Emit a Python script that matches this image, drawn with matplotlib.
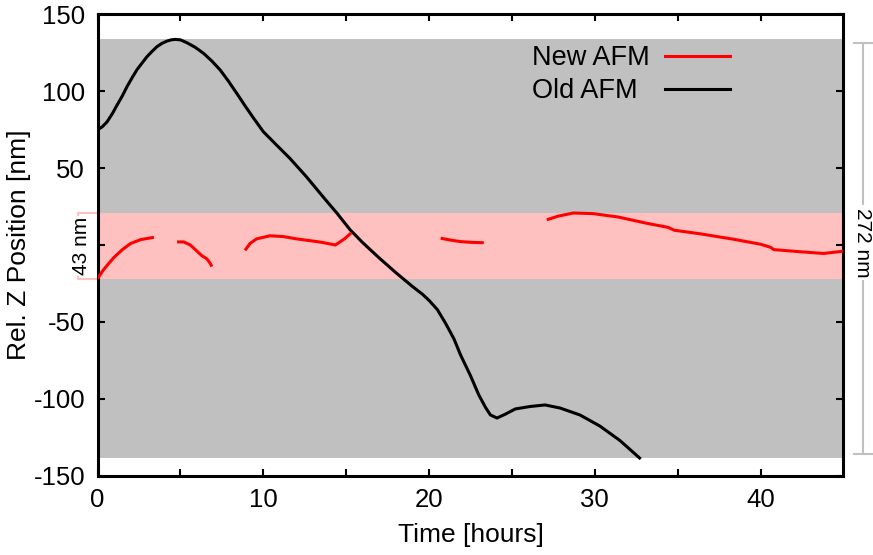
import numpy as np
import matplotlib
matplotlib.use('Agg')
import matplotlib.pyplot as plt
import matplotlib.transforms as mtransforms

plt.rcParams['font.family'] = ['Liberation Sans', 'DejaVu Sans']
plt.rcParams['axes.unicode_minus'] = False

# old AFM drift [hours, nm]
old_t = [0, 0.3, 0.57, 0.9, 1.18, 1.5, 1.78, 2.1, 2.38, 2.7, 2.98, 3.3, 3.59, 3.9, 4.19,
         4.45, 4.7, 5.0, 5.4, 5.9, 6.4, 6.9, 7.4, 7.9, 8.4, 8.9, 9.42, 10.0, 10.8, 11.6,
         12.6, 13.6, 14.45, 15.25, 16, 17, 18, 19, 19.6, 20, 20.5, 21, 21.5, 21.9, 22.5,
         23, 23.4, 23.7, 24.1, 24.6, 25.2, 26.1, 27, 27.9, 29.1, 30.3, 31.5, 32.7]
old_z = [74.8, 77, 80, 85.5, 91, 97, 103, 109, 114, 118.5, 122.4, 126, 129, 131.2, 132.6,
         133.4, 133.7, 133.4, 131.5, 128.5, 124.6, 119.6, 113.8, 106.5, 98.6, 90.5, 82.4,
         73.7, 65, 56.4, 44.4, 31.4, 20.6, 9.75, 1.5, -8.5, -18, -27, -32, -36, -42, -51,
         -61, -71.5, -85, -97.5, -105.5, -110.5, -112.5, -110, -106.6, -105, -104, -106,
         -110.5, -117.7, -127, -138.5]

# new AFM drift, separate recording segments
new_segments_t = [
    [0, 0.3, 0.6, 1, 1.5, 2, 2.6, 3.4],
    [4.8, 5.2, 5.6, 6.0, 6.3, 6.6, 6.8, 6.9],
    [8.9, 9.2, 9.6, 10.4, 11.2, 12, 12.7, 13.5, 14.35, 14.9, 15.3],
    [20.7, 21.3, 21.9, 22.6, 23.3],
    [27.1, 27.8, 28.7, 29.9, 31.4, 33.1, 34.4, 34.8, 36.4, 38.4, 40, 40.6, 40.8, 42.4,
     43.8, 45],
]
new_segments_z = [
    [-22, -17, -13, -8, -3, 1, 3.5, 5],
    [2, 2, 0, -4, -7, -9, -12, -14],
    [-3.5, 1, 4, 6, 5.5, 4, 3, 1.8, 0, 4, 7.8],
    [4.4, 3.2, 2.2, 1.7, 1.5],
    [16.4, 18.8, 20.8, 20.4, 18.2, 14.2, 11.5, 9.6, 7.2, 3.7, 0.5, -1.5, -3, -4.4,
     -5.5, -4],
]

y_ticks = [-150, -100, -50, 0, 50, 100, 150]
y_ticklabels = ['-150', '-100', '-50', '', '50', '100', '150']
old_range_label = '272 nm'
new_range_label = '43 nm'

fig = plt.figure(figsize=(8.73, 5.55), dpi=100)
ax = fig.add_axes([0.1117, 0.1429, 0.8545, 0.8313])

old_lo, old_hi = min(old_z), max(old_z)
new_lo = min(min(s) for s in new_segments_z)
new_hi = max(max(s) for s in new_segments_z)

ax.axhspan(old_lo, old_hi, color='#c0c0c0', lw=0, zorder=0)
ax.axhspan(new_lo, new_hi, color='#ffc0c0', lw=0, zorder=1)

ax.plot(old_t, old_z, color='black', lw=2.2, zorder=3, solid_joinstyle='round')
for st, sz in zip(new_segments_t, new_segments_z):
    ax.plot(st, sz, color='#ff0000', lw=2.2, zorder=4, solid_capstyle='butt')

ax.set_xlim(0, 45)
ax.set_ylim(-150, 150)
ax.set_xticks([0, 10, 20, 30, 40])
ax.set_xticks([5, 15, 25, 35], minor=True)
ax.set_yticks(y_ticks)
ax.set_yticklabels(y_ticklabels)
ax.tick_params(which='both', direction='in', top=True, right=True, length=5, width=1.5,
               labelsize=18.5, pad=9)
for sp in ax.spines.values():
    sp.set_linewidth(2.2)

ax.set_xlabel('Time [hours]', fontsize=19, labelpad=8)
ax.set_ylabel('Rel. Z Position [nm]', fontsize=19, labelpad=2)

# legend drawn by hand: text first, then line
leg = [('New AFM', '#ff0000', 0.909), ('Old AFM', 'black', 0.838)]
for lab, col, yy in leg:
    ax.text(0.5825, yy - 0.004, lab, transform=ax.transAxes, fontsize=19.5, va='center',
            ha='left', zorder=6)
    ax.plot([0.761, 0.848], [yy, yy], transform=ax.transAxes, color=col, lw=2.2, zorder=6)

# range brackets
tr = mtransforms.blended_transform_factory(ax.transAxes, ax.transData)
ax.plot([0.0, -0.026, -0.026, 0.0], [new_hi, new_hi, new_lo, new_lo], transform=tr,
        color='#ffc0c0', lw=1.5, clip_on=False, zorder=2)
ax.text(-0.021, (new_hi + new_lo) / 2, new_range_label, transform=tr, rotation=90,
        fontsize=15, ha='center', va='center',
        bbox=dict(facecolor='white', edgecolor='none', pad=0.5))

ax.plot([1.014, 1.039], [old_hi - 2.5, old_hi - 2.5], transform=tr, color='#c0c0c0', lw=1.5,
        clip_on=False)
ax.plot([1.014, 1.039], [old_lo + 2.5, old_lo + 2.5], transform=tr, color='#c0c0c0', lw=1.5,
        clip_on=False)
ax.plot([1.026, 1.026], [old_lo + 2.5, old_hi - 2.5], transform=tr, color='#c0c0c0', lw=1.5,
        clip_on=False)
ax.text(1.026, (old_hi + old_lo) / 2 + 4, old_range_label, transform=tr, rotation=270,
        fontsize=15, ha='center', va='center',
        bbox=dict(facecolor='white', edgecolor='none', pad=2))

fig.savefig('out.png', dpi=100)
